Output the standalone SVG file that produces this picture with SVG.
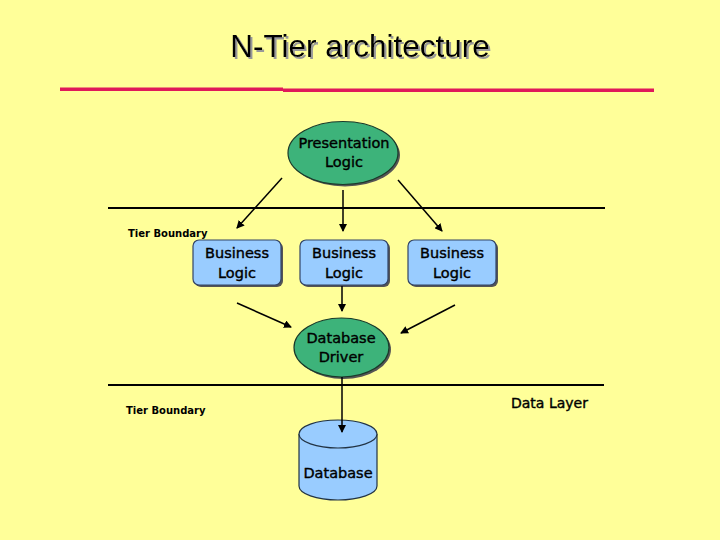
<svg xmlns="http://www.w3.org/2000/svg" width="720" height="540" viewBox="0 0 720 540">
<defs>
<style>
.t{font-family:"DejaVu Sans","Liberation Sans",sans-serif;font-size:14.5px;fill:#000;stroke:#000;stroke-width:0.4;text-anchor:middle}
.sm{font-family:"DejaVu Sans","Liberation Sans",sans-serif;font-size:10px;font-weight:bold;fill:#000}
.ell{fill:#3DB37A;stroke:#1a3a2a;stroke-width:1.2}
.box{fill:#99CCFF;stroke:#334466;stroke-width:1.2}
.sh{fill:#555}
.ln{stroke:#000;stroke-width:2;fill:none}
.ar{stroke:#000;stroke-width:1.5;fill:none;marker-end:url(#ah)}
</style>
<marker id="ah" markerWidth="8" markerHeight="8" refX="7" refY="4" orient="auto" markerUnits="userSpaceOnUse">
<path d="M0,0 L8,4 L0,8 Z" fill="#000"/>
</marker>
<filter id="ts" x="-10%" y="-30%" width="120%" height="160%">
<feDropShadow dx="2" dy="2" stdDeviation="0.3" flood-color="#999" flood-opacity="1"/>
</filter>
</defs>
<rect width="720" height="540" fill="#FFFF99"/>
<g id="title">
<text x="360" y="57" font-family="Liberation Sans, Arial, sans-serif" font-size="31.5" text-anchor="middle" fill="#000" filter="url(#ts)">N-Tier architecture</text>
<rect x="60" y="87.5" width="223" height="3.5" fill="#E0185A"/>
<rect x="283" y="88.5" width="371" height="3.5" fill="#E0185A"/>
</g>
<g id="boundaries">
<line class="ln" x1="108" y1="208" x2="605" y2="208"/>
<line class="ln" x1="108" y1="385" x2="604" y2="385"/>
<text class="sm" x="128" y="237">Tier Boundary</text>
<text class="sm" x="126" y="414">Tier Boundary</text>
<text x="511" y="408" font-family="DejaVu Sans, Liberation Sans, sans-serif" font-size="14" fill="#000" stroke="#000" stroke-width="0.4">Data Layer</text>
</g>
<g id="presentation">
<ellipse class="sh" cx="345" cy="155" rx="55" ry="31.5"/>
<ellipse class="ell" cx="343" cy="153" rx="55" ry="31.5"/>
<text class="t" x="344" y="148">Presentation</text>
<text class="t" x="344" y="167">Logic</text>
</g>
<g id="business1">
<rect class="sh" x="195" y="242" width="88" height="45" rx="6"/>
<rect class="box" x="193" y="240" width="88" height="45" rx="6"/>
<text class="t" x="237" y="258">Business</text>
<text class="t" x="237" y="278">Logic</text>
</g>
<g id="business2">
<rect class="sh" x="302" y="242" width="88" height="45" rx="6"/>
<rect class="box" x="300" y="240" width="88" height="45" rx="6"/>
<text class="t" x="344" y="258">Business</text>
<text class="t" x="344" y="278">Logic</text>
</g>
<g id="business3">
<rect class="sh" x="410" y="242" width="88" height="45" rx="6"/>
<rect class="box" x="408" y="240" width="88" height="45" rx="6"/>
<text class="t" x="452" y="258">Business</text>
<text class="t" x="452" y="278">Logic</text>
</g>
<g id="driver">
<ellipse class="sh" cx="343.5" cy="349.5" rx="47.5" ry="29.5"/>
<ellipse class="ell" cx="341.5" cy="347.5" rx="47.5" ry="29.5"/>
<text class="t" x="341" y="343">Database</text>
<text class="t" x="341" y="362">Driver</text>
</g>
<g id="database">
<path d="M299,434 L299,486 A39,14 0 0 0 377,486 L377,434" fill="#99CCFF" stroke="#223344" stroke-width="1.2"/>
<ellipse cx="338" cy="434" rx="39" ry="14" fill="#99CCFF" stroke="#223344" stroke-width="1.2"/>
<text class="t" x="338" y="478">Database</text>
</g>
<g id="connectors">
<line class="ar" x1="282" y1="178" x2="237" y2="228"/>
<line class="ar" x1="343" y1="190" x2="343" y2="231"/>
<line class="ar" x1="398" y1="180" x2="442" y2="231"/>
<line class="ar" x1="237" y1="303" x2="291" y2="327"/>
<line class="ar" x1="342" y1="286" x2="342" y2="311"/>
<line class="ar" x1="455" y1="305" x2="401" y2="333"/>
<line class="ar" x1="342" y1="377" x2="342" y2="432"/>
</g>
</svg>
